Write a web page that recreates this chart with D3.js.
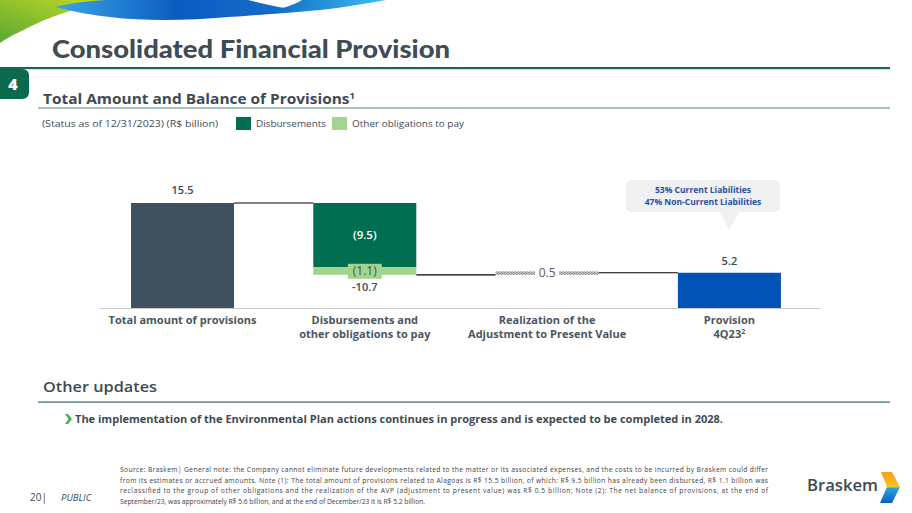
<!DOCTYPE html>
<html><head><meta charset="utf-8">
<script src="https://cdn.jsdelivr.net/npm/d3@7"></script>
<style>html,body{margin:0;padding:0;background:#fff;}svg{display:block;}</style>
</head><body><div id="chart"></div>
<script>
// ---- data ----
const categories = ["Total amount of provisions", "Disbursements and\nother obligations to pay", "Realization of the\nAdjustment to Present Value", "Provision\n4Q23²"];
const startValue = 15.5;
const disbursements = -9.5;
const otherObligations = -1.1;
const avpRealization = 0.5;
const endValue = 5.2;
const valueLabels = ["15.5", "(9.5)", "(1.1)", "-10.7", "0.5", "5.2"];
const legendItems = ["Disbursements", "Other obligations to pay"];
const calloutLines = ["53% Current Liabilities", "47% Non-Current Liabilities"];
const footnoteLines = [
 "Source: Braskem| General note: the Company cannot eliminate future developments related to the matter or its associated expenses, and the costs to be incurred by Braskem could differ",
 "from its estimates or accrued amounts. Note (1): The total amount of provisions related to Alagoas is R$ 15.5 billion, of which: R$ 9.5 billion has already been disbursed, R$ 1.1 billion was",
 "reclassified to the group of other obligations and the realization of the AVP (adjustment to present value) was R$ 0.5 billion; Note (2): The net balance of provisions, at the end of",
 "September/23, was approximately R$ 5.6 billion, and at the end of December/23 it is R$ 5.2 billion."
];

const W = 912, H = 513;
const svg = d3.select("#chart").append("svg").attr("width", W).attr("height", H);
const defs = svg.append("defs");
const dark = "#3e4a54";
const F = "'Open Sans', 'Noto Sans', sans-serif";

// gradients for header swoosh
const g1 = defs.append("linearGradient").attr("id","gGreen").attr("x1","0").attr("x2","1").attr("y1","1").attr("y2","0");
g1.append("stop").attr("offset","0").attr("stop-color","#58a832");
g1.append("stop").attr("offset","1").attr("stop-color","#cbdc24");
const g2 = defs.append("linearGradient").attr("id","gBlue").attr("x1","0").attr("x2","1");
g2.append("stop").attr("offset","0").attr("stop-color","#3aa4e4");
g2.append("stop").attr("offset","0.5").attr("stop-color","#0a5cc0");
g2.append("stop").attr("offset","1").attr("stop-color","#1a70cc");
const g3 = defs.append("linearGradient").attr("id","gBlue2").attr("x1","0").attr("x2","1");
g3.append("stop").attr("offset","0").attr("stop-color","#0a5cc0");
g3.append("stop").attr("offset","1").attr("stop-color","#3cc0ee");

svg.append("path").attr("d","M0,0 L122,0 C95,4 65,11 42,21 C25,29 10,36 0,43 Z").attr("fill","url(#gGreen)");
svg.append("path").attr("d","M55,7 C78,2 95,0 112,0 L248,0 C268,5 285,9 302,10 C275,13 252,16 228,17 C170,22 112,22 55,7 Z").attr("fill","url(#gBlue)");
svg.append("path").attr("d","M252,15 C300,13 345,8 386,0 L302,0 C292,6 275,11 252,15 Z").attr("fill","url(#gBlue2)");

// title
svg.append("text").attr("x",52).attr("y",58).attr("font-family","Lato, 'Open Sans', sans-serif").attr("font-weight",900)
  .attr("font-size",24.5).attr("fill","#3f4b55").attr("textLength",398).attr("lengthAdjust","spacingAndGlyphs").text("Consolidated Financial Provision");
svg.append("rect").attr("x",0).attr("y",67).attr("width",890).attr("height",2.2).attr("fill","#16694f");
// badge
svg.append("path").attr("d","M0,69 L22,69 Q29,69 29,76 L29,92 Q29,99 22,99 L0,99 Z").attr("fill","#0b6a4d");
svg.append("text").attr("x",13).attr("y",90).attr("text-anchor","middle").attr("font-family",F).attr("font-weight",800).attr("font-size",16).attr("fill","#fff").text("4");

// subtitle
const sub = svg.append("text").attr("x",43).attr("y",104).attr("font-family",F).attr("font-weight",700).attr("font-size",14.5).attr("fill",dark)
  .attr("textLength",312).attr("lengthAdjust","spacingAndGlyphs");
sub.append("tspan").text("Total Amount and Balance of Provisions");
sub.append("tspan").attr("font-size",9).attr("dy",-5).text("1");
svg.append("rect").attr("x",38).attr("y",107.5).attr("width",852).attr("height",1).attr("fill","#4f8a74");

// legend line
svg.append("text").attr("x",42).attr("y",127).attr("font-family",F).attr("font-size",9).attr("fill",dark)
  .attr("textLength",176).attr("lengthAdjust","spacingAndGlyphs").text("(Status as of 12/31/2023)   (R$ billion)");
const legColors = ["#006f51", "#a3d48f"];
const legX = [236, 332], legW = [70, 112];
legendItems.forEach((d,i)=>{
  svg.append("rect").attr("x",legX[i]).attr("y",117).attr("width",15).attr("height",13).attr("fill",legColors[i]);
  svg.append("text").attr("x",legX[i]+20).attr("y",127).attr("font-family",F).attr("font-size",9).attr("fill",dark)
    .attr("textLength",legW[i]).attr("lengthAdjust","spacingAndGlyphs").text(d);
});

// ---- chart ----
const x = d3.scaleBand().domain(categories).range([51.7, 860.2]).paddingInner(0.435).paddingOuter(0.435);
const y = d3.scaleLinear().domain([0, 15.5]).range([308, 203]);
const bw = x.bandwidth();
const c = categories;

const lvl1 = startValue;
const lvl2 = lvl1 + disbursements;
const lvl3 = lvl2 + otherObligations;
const lvl4 = lvl3 + avpRealization;

// hatch pattern
const pat = defs.append("pattern").attr("id","hatch").attr("width",3).attr("height",2).attr("patternUnits","userSpaceOnUse");
pat.append("rect").attr("width",3).attr("height",2).attr("fill","#d9d9d9");
pat.append("rect").attr("width",1.5).attr("height",1).attr("fill","#7f7f7f");
pat.append("rect").attr("x",1.5).attr("y",1).attr("width",1.5).attr("height",1).attr("fill","#7f7f7f");

// connector lines
const conn = [
  [x(c[0])+bw, x(c[1]), lvl1],
  [x(c[1])+bw, x(c[2]), lvl3],
  [x(c[2])+bw, x(c[3]), endValue]
];
svg.selectAll(".conn").data(conn).enter().append("line")
  .attr("x1",d=>d[0]).attr("x2",d=>d[1]).attr("y1",d=>y(d[2])).attr("y2",d=>y(d[2]))
  .attr("stroke","#000").attr("stroke-width",1.2);

// bars
svg.append("rect").attr("x",x(c[0])).attr("width",bw).attr("y",y(lvl1)).attr("height",y(0)-y(lvl1)).attr("fill","#3f505f");
svg.append("rect").attr("x",x(c[1])).attr("width",bw).attr("y",y(lvl1)).attr("height",y(lvl2)-y(lvl1)).attr("fill","#006f51");
svg.append("rect").attr("x",x(c[1])).attr("width",bw).attr("y",y(lvl2)).attr("height",y(lvl3)-y(lvl2)).attr("fill","#a3d48f");
svg.append("rect").attr("x",x(c[2])).attr("width",bw).attr("y",y(lvl4)).attr("height",y(lvl3)-y(lvl4)).attr("fill","url(#hatch)");
svg.append("rect").attr("x",x(c[3])).attr("width",bw).attr("y",y(endValue)).attr("height",y(0)-y(endValue)).attr("fill","#0052b5");

// baseline
svg.append("line").attr("x1",100).attr("x2",820).attr("y1",308.5).attr("y2",308.5).attr("stroke","#c9c9c9").attr("stroke-width",1);

// value labels
const cx = i => x(c[i]) + bw/2;
const lab = (t,xx,yy,col,opts={}) => svg.append("text").attr("x",xx).attr("y",yy).attr("text-anchor","middle")
   .attr("font-family",F).attr("font-size",opts.size||11).attr("font-weight",opts.weight||600).attr("fill",col).text(t);
lab(valueLabels[0], cx(0), y(lvl1)-9, dark);
lab(valueLabels[1], cx(1), (y(lvl1)+y(lvl2))/2+4, "#fff", {size:11.5});
svg.append("rect").attr("x",cx(1)-17).attr("y",y(lvl3)-11).attr("width",34).attr("height",15).attr("fill","#a3d48f");
lab(valueLabels[2], cx(1), y(lvl3)+0.5, "#3d5a40", {weight:400, size:12});
lab(valueLabels[3], cx(1), y(lvl3)+16.5, dark);
svg.append("rect").attr("x",cx(2)-12).attr("y",y(lvl4)-6).attr("width",24).attr("height",12).attr("fill","#fff");
lab(valueLabels[4], cx(2), y(lvl4)+6, "#595959", {weight:400, size:12});
lab(valueLabels[5], cx(3), y(endValue)-8, dark);

// category labels
categories.forEach((d,i)=>{
  const t = svg.append("text").attr("text-anchor","middle").attr("font-family",F).attr("font-weight",700).attr("font-size",11).attr("fill","#4a5560");
  d.split("\n").forEach((ln,k)=>{
    const ts = t.append("tspan").attr("x",cx(i)).attr("y",324+k*14);
    if (ln.endsWith("²")) { ts.text(ln.slice(0,-1)); ts.append("tspan").attr("font-size",7).attr("dy",-4).text("2"); }
    else ts.text(ln);
  });
});

// callout
const cc = 703;
svg.append("path").attr("d",`M${cc-71},180 L${cc+71},180 Q${cc+77},180 ${cc+77},186 L${cc+77},206 Q${cc+77},212 ${cc+71},212 L${cx(3)+10},212 L${cx(3)},230 L${cx(3)-10},212 L${cc-71},212 Q${cc-77},212 ${cc-77},206 L${cc-77},186 Q${cc-77},180 ${cc-71},180 Z`)
  .attr("fill","#eff0f1");
calloutLines.forEach((l,i)=>{
  svg.append("text").attr("x",cc).attr("y",193+i*12).attr("text-anchor","middle").attr("font-family",F).attr("font-weight",700)
   .attr("font-size",8.5).attr("fill","#2a4ea0").text(l);
});

// other updates
svg.append("text").attr("x",43).attr("y",392).attr("font-family",F).attr("font-weight",600).attr("font-size",14.5).attr("fill",dark)
  .attr("textLength",114).attr("lengthAdjust","spacingAndGlyphs").text("Other updates");
svg.append("rect").attr("x",38).attr("y",401.5).attr("width",852).attr("height",1.2).attr("fill","#2f6f57");
svg.append("path").attr("d","M65,414 L68,414 L72,419 L68,424 L65,424 L68.5,419 Z").attr("fill","#4caf50");
svg.append("text").attr("x",75).attr("y",423).attr("font-family",F).attr("font-weight",700).attr("font-size",10).attr("fill",dark)
  .attr("textLength",648).attr("lengthAdjust","spacingAndGlyphs")
  .text("The implementation of the Environmental Plan actions continues in progress and is expected to be completed in 2028.");

// footer
svg.append("text").attr("x",30).attr("y",501).attr("font-family",F).attr("font-size",10).attr("fill",dark).text("20|");
svg.append("text").attr("x",61).attr("y",501).attr("font-family",F).attr("font-style","italic").attr("font-size",9.5).attr("fill",dark).text("PUBLIC");
footnoteLines.forEach((l,i)=>{
  const t = svg.append("text").attr("x",120).attr("y",472+i*10.7).attr("font-family",F).attr("font-size",6.7).attr("fill","#404040").text(l);
  if (i<3) t.attr("textLength",648).attr("lengthAdjust","spacing");
});

// logo
svg.append("text").attr("x",807).attr("y",491).attr("font-family",F).attr("font-weight",600).attr("font-size",16.5).attr("fill","#3d4a56")
  .attr("textLength",71).attr("lengthAdjust","spacingAndGlyphs").text("Braskem");
const lg = defs.append("linearGradient").attr("id","gLogo").attr("x1","0").attr("y1","0").attr("x2","0").attr("y2","1");
lg.append("stop").attr("offset","0").attr("stop-color","#f7a01c");
lg.append("stop").attr("offset","0.48").attr("stop-color","#f5c41a");
lg.append("stop").attr("offset","0.52").attr("stop-color","#2ca3e2");
lg.append("stop").attr("offset","1").attr("stop-color","#0a5fc0");
svg.append("path").attr("d","M881,472 L892,472 L900,487 L892,503 L880,503 L887,487 Z").attr("fill","url(#gLogo)");
</script></body></html>
